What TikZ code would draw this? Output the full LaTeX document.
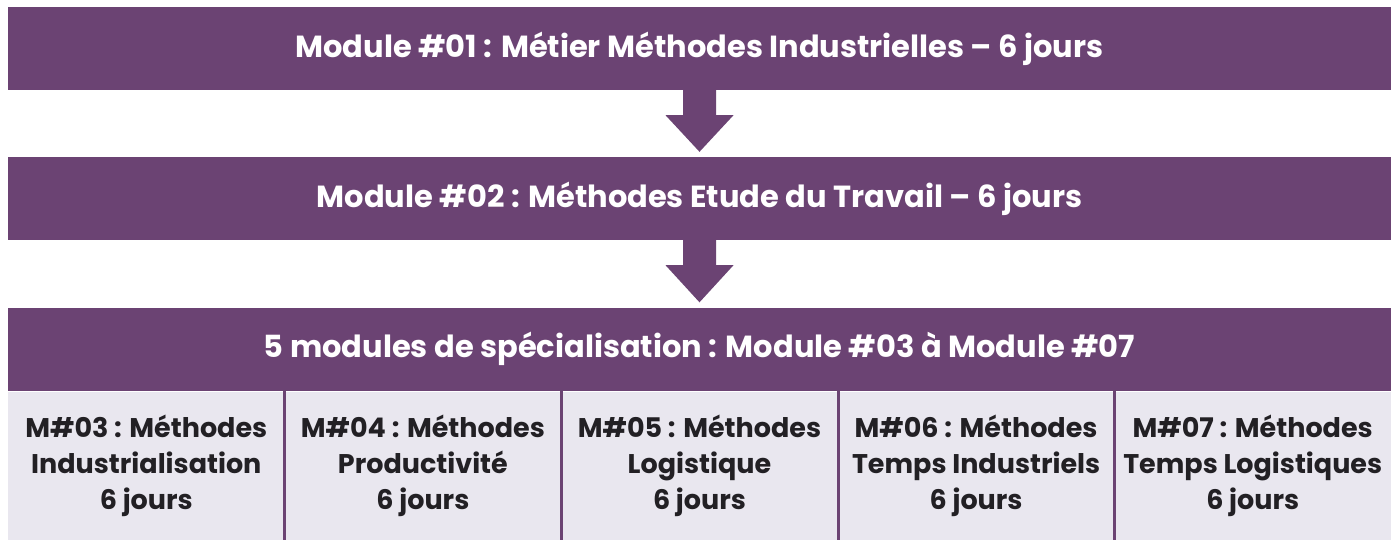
\documentclass[tikz,border=0pt]{standalone}
\usepackage{fontspec}
\setmainfont{Poppins}
\usetikzlibrary{calc}
\definecolor{plum}{RGB}{107,67,115}
\definecolor{cellbg}{RGB}{233,231,239}
\definecolor{ink}{RGB}{34,32,36}
\tikzset{
  bar/.style={fill=plum, minimum width=1383pt, minimum height=83pt, inner sep=0pt,
    text=white, font=\fontsize{30.5}{34}\selectfont\bfseries},
  cell/.style={fill=cellbg, minimum width=276.6pt, minimum height=148pt, inner sep=0pt,
    text=ink, align=center, font=\fontsize{27}{36}\selectfont\bfseries},
  divider/.style={draw=plum, line width=3pt},
  flow/.style={fill=plum}
}
\begin{document}
\begin{tikzpicture}[x=1pt,y=-1pt]
\useasboundingbox (0,0) rectangle (1400,547);
\fill[white] (0,0) rectangle (1400,547);
\node[bar] (b1) at (699.5,48.5) {\raisebox{-2pt}{Module \#01 : Métier Méthodes Industrielles – 6 jours}};
\node[bar] (b2) at (699.5,198.5) {\raisebox{-2pt}{Module \#02 : Méthodes Etude du Travail – 6 jours}};
\node[bar] (b3) at (699.5,349) {\raisebox{-2pt}{5 modules de spécialisation : Module \#03 à Module \#07}};
\node[cell] (c3) at (146.3,465.5) {M\#03 : Méthodes\\Industrialisation\\6 jours};
\node[cell] (c4) at (422.9,465.5) {M\#04 : Méthodes\\Productivité\\6 jours};
\node[cell] (c5) at (699.5,465.5) {M\#05 : Méthodes\\Logistique\\6 jours};
\node[cell] (c6) at (976.1,465.5) {M\#06 : Méthodes\\Temps Industriels\\6 jours};
\node[cell] (c7) at (1252.7,465.5) {M\#07 : Méthodes\\Temps Logistiques\\6 jours};
\foreach \a/\b in {c3/c4,c4/c5,c5/c6,c6/c7}
  \draw[divider] (\a.north east) -- (\a.south east);
\foreach \u/\v in {b1/b2,b2/b3}
  \path let \p1=(\u.south), \p2=(\v.north) in
    [flow] (\x1-16.5pt,\y1) -- (\x1+16.5pt,\y1) -- (\x1+16.5pt,\y1-25pt)
    -- (\x1+34pt,\y1-25pt) -- (\x1,\y2+5pt) -- (\x1-34pt,\y1-25pt)
    -- (\x1-16.5pt,\y1-25pt) -- cycle;
\end{tikzpicture}
\end{document}
